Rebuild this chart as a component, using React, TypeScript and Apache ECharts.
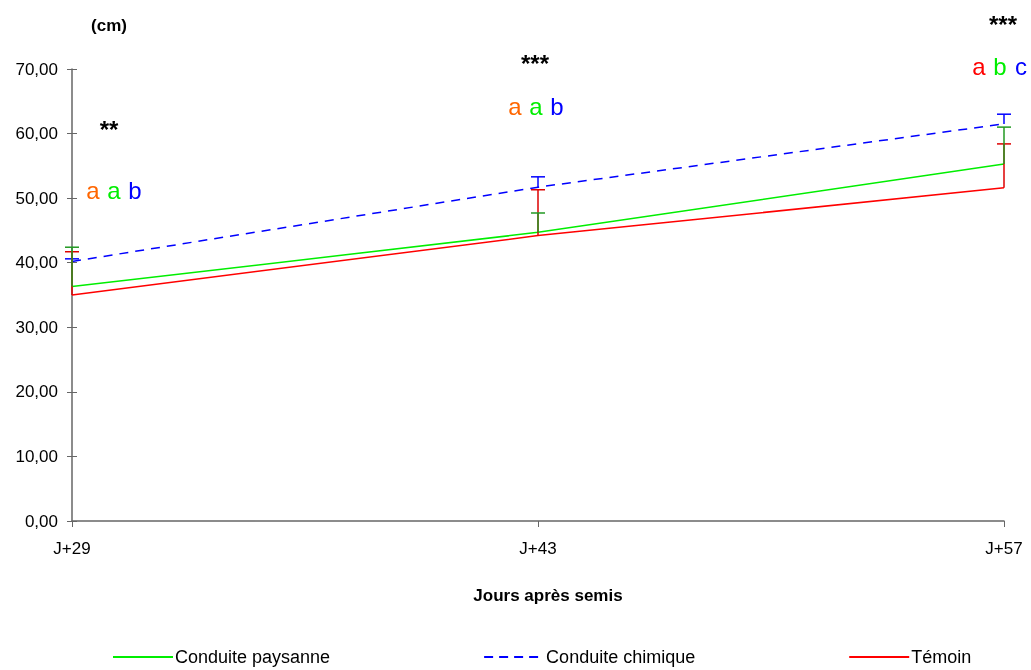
import React, { useEffect, useRef } from "react";
import * as echarts from "echarts";

const categories = ["J+29", "J+43", "J+57"];
const paysanne = [36.3, 44.7, 55.3];
const chimique = [40.2, 51.7, 61.5];
const temoin = [35.0, 44.2, 51.6];
const errPaysanne = [6.1, 3.0, 5.7];
const errChimique = [0.4, 1.6, 1.5];
const errTemoin = [6.7, 7.1, 6.8];
const yTicks = { min: 0, max: 70, interval: 10 };
const stars = ["**", "***", "***"];
const letters = [
  ["a", "a", "b"],
  ["a", "a", "b"],
  ["a", "b", "c"],
];
const letterColors = [
  ["#ff6600", "#00ee00", "#0000ff"],
  ["#ff6600", "#00ee00", "#0000ff"],
  ["#ff0000", "#00ee00", "#0000ff"],
];

const FONT = "'Liberation Sans', Arial, sans-serif";
const DASH_ICON = "path://M0,0h9v2h-9z M15,0h9v2h-9z M30,0h9v2h-9z M45,0h9v2h-9z M60,0h0.01v2h-0.01z";

function errSeries(name: string, vals: number[], errs: number[], color: string) {
  return {
    type: "custom",
    name,
    z: 5,
    data: vals.map((v, i) => [i, v, v + errs[i]]),
    renderItem: (params: any, api: any) => {
      const p0 = api.coord([api.value(0), api.value(1)]);
      const p1 = api.coord([api.value(0), api.value(2)]);
      const style = { stroke: color, lineWidth: 1.5 };
      return {
        type: "group",
        children: [
          { type: "line", shape: { x1: p0[0], y1: p0[1], x2: p1[0], y2: p1[1] }, style },
          { type: "line", shape: { x1: p1[0] - 7, y1: p1[1], x2: p1[0] + 7, y2: p1[1] }, style },
        ],
      };
    },
  };
}

export default function App() {
  const ref = useRef<HTMLDivElement>(null);
  useEffect(() => {
    const chart = echarts.init(ref.current!, null, { renderer: "svg" });
    const yTop = [129, 63, 24];
    const yLet = [190, 106, 66];
    const graphics: any[] = [];
    categories.forEach((_, i) => {
      const cx = i === 0 ? 109 : i === 1 ? 535 : 1003;
      graphics.push({
        type: "text",
        x: cx,
        y: yTop[i],
        style: { text: stars[i], font: `bold 24px ${FONT}`, fill: "#000", align: "center", verticalAlign: "middle" },
      });
      const lx = i === 0 ? 93 : i === 1 ? 515 : 979;
      letters[i].forEach((l, j) => {
        graphics.push({
          type: "text",
          x: lx + j * 21,
          y: yLet[i],
          style: { text: l, font: `24px ${FONT}`, fill: letterColors[i][j], align: "center", verticalAlign: "middle" },
        });
      });
    });
    graphics.push({
      type: "text",
      x: 109,
      y: 25,
      style: { text: "(cm)", font: `bold 17px ${FONT}`, fill: "#000", align: "center", verticalAlign: "middle" },
    });
    graphics.push({
      type: "text",
      x: 548,
      y: 595,
      style: { text: "Jours après semis", font: `bold 17px ${FONT}`, fill: "#000", align: "center", verticalAlign: "middle" },
    });

    const yAxisBase = {
      type: "value",
      min: yTicks.min,
      max: yTicks.max,
      interval: yTicks.interval,
      splitLine: { show: false },
    };

    chart.setOption({
      animation: false,
      textStyle: { fontFamily: FONT },
      grid: { left: 72, right: 27, top: 69, bottom: 149 },
      legend: {
        data: [
          { name: "Conduite paysanne", icon: "rect" },
          { name: "Conduite chimique", icon: DASH_ICON },
          { name: "Témoin", icon: "rect" },
        ],
        left: 113,
        top: 648,
        padding: 0,
        itemWidth: 60,
        itemHeight: 2,
        itemGap: 154,
        textStyle: { fontSize: 18, color: "#000", fontFamily: FONT, padding: [0, 0, 0, -3] },
      },
      xAxis: {
        type: "category",
        data: categories,
        boundaryGap: false,
        axisLine: { lineStyle: { color: "#666", width: 1.5 } },
        axisTick: { alignWithLabel: true, length: 6, lineStyle: { color: "#666" } },
        axisLabel: { fontSize: 17, color: "#000", margin: 19, fontFamily: FONT },
      },
      yAxis: [
        {
          ...yAxisBase,
          axisLine: { show: true, lineStyle: { color: "#666", width: 1.5 } },
          axisTick: { show: true, length: 5, lineStyle: { color: "#666" } },
          axisLabel: {
            fontSize: 17,
            color: "#000",
            margin: 14,
            fontFamily: FONT,
            formatter: (v: number) => v.toFixed(2).replace(".", ","),
          },
        },
        {
          ...yAxisBase,
          position: "left",
          axisLine: { show: false },
          axisTick: { show: true, inside: true, length: 5, lineStyle: { color: "#666" } },
          axisLabel: { show: false },
        },
      ],
      graphic: graphics,
      series: [
        {
          type: "line",
          name: "Conduite paysanne",
          data: paysanne,
          symbol: "none",
          color: "#00ee00",
          lineStyle: { color: "#00ee00", width: 1.5 },
          z: 3,
        },
        {
          type: "line",
          name: "Conduite chimique",
          data: chimique,
          symbol: "none",
          color: "#0000ff",
          lineStyle: { color: "#0000ff", width: 1.5, type: [9, 7] },
          z: 3,
        },
        {
          type: "line",
          name: "Témoin",
          data: temoin,
          symbol: "none",
          color: "#ff0000",
          lineStyle: { color: "#ff0000", width: 1.5 },
          z: 3,
        },
        errSeries("errChimique", chimique, errChimique, "#0000ff"),
        errSeries("errTemoin", temoin, errTemoin, "#dd0000"),
        errSeries("errPaysanne", paysanne, errPaysanne, "#229922"),
      ],
    });
    return () => chart.dispose();
  }, []);
  return <div ref={ref} style={{ position: "fixed", left: 0, top: 0, width: 1031, height: 670 }} />;
}
